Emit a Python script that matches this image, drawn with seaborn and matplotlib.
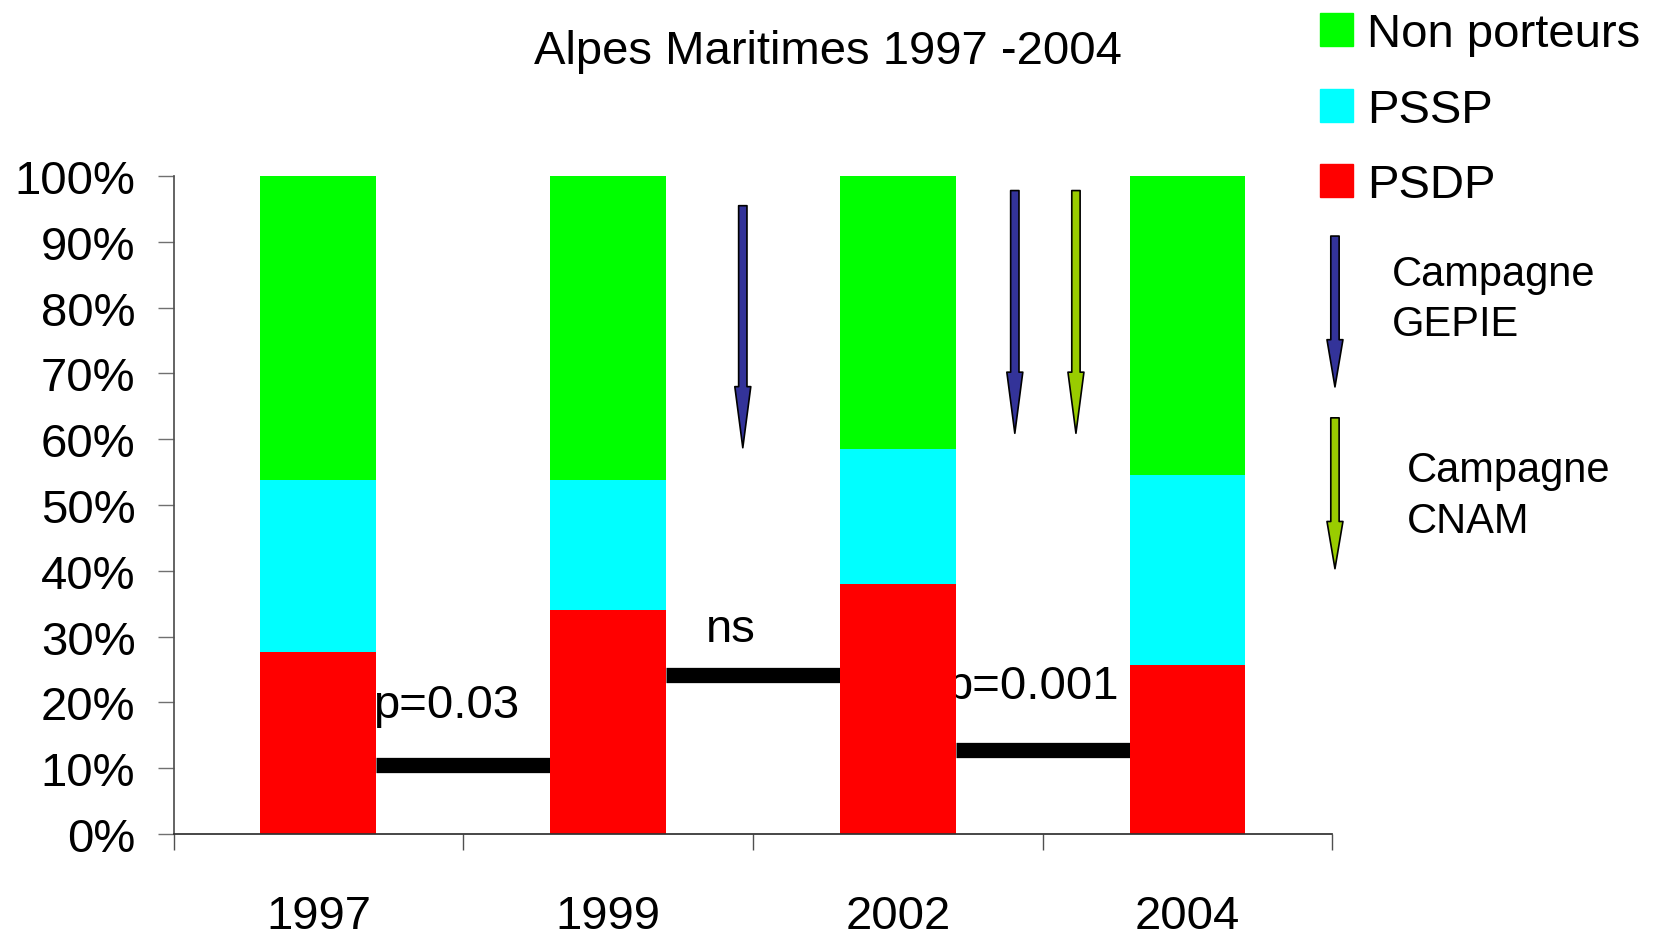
import numpy as np
import pandas as pd
import seaborn as sns
import matplotlib.pyplot as plt
from matplotlib.patches import Patch, FancyArrowPatch

# valeurs (en %)
annees = ['1997', '1999', '2002', '2004']
psdp = [27.6, 34.0, 38.0, 25.6]
pssp = [26.2, 19.8, 20.5, 28.9]
non_porteurs = [46.2, 46.2, 41.5, 45.5]

graduations = [0, 10, 20, 30, 40, 50, 60, 70, 80, 90, 100]
etiquettes_y = ['%d%%' % g for g in graduations]

# traits de comparaison entre années voisines
comparaisons = ['p=0.03', 'ns', 'p=0.001']
niveau_trait = [10.4, 24.2, 12.8]
texte_x = [0.19, 1.424, 2.166]
texte_y = [19.6, 31.2, 22.5]
texte_ha = ['left', 'center', 'left']

# flèches des campagnes
fleches_x = [1.465, 2.404, 2.615]
fleches_haut = [95.5, 97.8, 97.8]
fleches_bas = [58.7, 60.9, 60.9]
fleches_couleur = ['#333399', '#333399', '#99CC00']

vert = '#00FF00'
cyan = '#00FFFF'
rouge = '#FF0000'

df = pd.DataFrame({'annee': annees, 'psdp': psdp, 'pssp': pssp, 'np': non_porteurs})
df['cum_pssp'] = df['psdp'] + df['pssp']
df['total'] = df['cum_pssp'] + df['np']

sns.set_theme(style='white')
plt.rcParams['font.family'] = ['Liberation Sans', 'DejaVu Sans']
plt.rcParams['text.color'] = 'black'
plt.rcParams['xtick.labelcolor'] = 'black'
plt.rcParams['ytick.labelcolor'] = 'black'

fig, ax = plt.subplots(figsize=(16.53, 9.37), dpi=100)
fig.subplots_adjust(left=0.105, right=0.806, bottom=0.109, top=0.811)

sns.barplot(data=df, x='annee', y='total', color=vert, width=0.4, saturation=1,
            errorbar=None, linewidth=0, ax=ax)
sns.barplot(data=df, x='annee', y='cum_pssp', color=cyan, width=0.4, saturation=1,
            errorbar=None, linewidth=0, ax=ax)
sns.barplot(data=df, x='annee', y='psdp', color=rouge, width=0.4, saturation=1,
            errorbar=None, linewidth=0, ax=ax)

# traits noirs entre les barres
for i, niv in enumerate(niveau_trait):
    ax.hlines(niv, i + 0.2, i + 0.8, colors='black', linewidth=11, zorder=0.9)
    ax.text(texte_x[i], texte_y[i], comparaisons[i], fontsize=34, ha=texte_ha[i],
            va='center', zorder=0.8, color='black')

for x, h, b, c in zip(fleches_x, fleches_haut, fleches_bas, fleches_couleur):
    ax.add_patch(FancyArrowPatch((x, h), (x, b), transform=ax.transData,
                                 arrowstyle='simple,head_length=44,head_width=11.5,tail_width=6',
                                 fc=c, ec='black', lw=1.2, shrinkA=0, shrinkB=0,
                                 mutation_scale=1, zorder=3, clip_on=False))

ax.set_ylim(0, 100)
ax.set_xlim(-0.5, 3.5)
ax.set_yticks(graduations)
ax.set_yticklabels(etiquettes_y, fontsize=34)
ax.set_xticks(range(len(annees)))
ax.set_xticklabels(annees, fontsize=34)
ax.set_xticks(np.arange(-0.5, len(annees), 1), minor=True)
ax.set_xlabel('')
ax.set_ylabel('')
ax.tick_params(axis='x', which='major', length=0, pad=43)
ax.tick_params(axis='x', which='minor', length=11.5, width=1, color='#505050', direction='out', bottom=True)
ax.tick_params(axis='y', length=11.5, width=1, color='#707070', direction='out', left=True, pad=16)
for s in ['top', 'right']:
    ax.spines[s].set_visible(False)
ax.spines['left'].set_color('#505050')
ax.spines['bottom'].set_color('#303030')
ax.grid(False)

fig.text(0.501, 0.945, 'Alpes Maritimes 1997 -2004', fontsize=34, ha='center', va='center')

poignees = [Patch(color=vert), Patch(color=cyan), Patch(color=rouge)]
fig.legend(poignees, ['Non porteurs', 'PSSP', 'PSDP'], loc='upper left',
           bbox_to_anchor=(0.7986, 0.986), frameon=False, fontsize=34,
           handlelength=0.7, handleheight=0.7, handletextpad=0.3,
           labelspacing=0.67, borderpad=0, borderaxespad=0)

# flèches de la légende
fig.add_artist(FancyArrowPatch((0.8076, 0.747), (0.8076, 0.586), transform=fig.transFigure,
                               arrowstyle='simple,head_length=34,head_width=11.5,tail_width=6',
                               fc='#333399', ec='black', lw=1.2, shrinkA=0, shrinkB=0,
                               mutation_scale=1))
fig.add_artist(FancyArrowPatch((0.8076, 0.553), (0.8076, 0.392), transform=fig.transFigure,
                               arrowstyle='simple,head_length=34,head_width=11.5,tail_width=6',
                               fc='#99CC00', ec='black', lw=1.2, shrinkA=0, shrinkB=0,
                               mutation_scale=1))
fig.text(0.842, 0.680, 'Campagne\nGEPIE', fontsize=30, ha='left', va='center', linespacing=1.33)
fig.text(0.851, 0.470, 'Campagne\nCNAM', fontsize=30, ha='left', va='center', linespacing=1.33)

fig.savefig('out.png', dpi=100)
